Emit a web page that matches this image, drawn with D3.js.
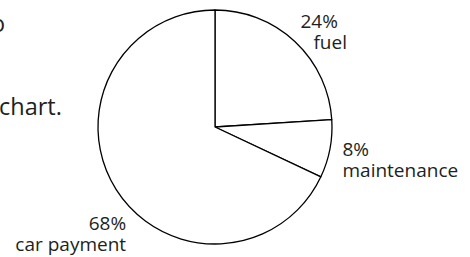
<!DOCTYPE html>
<html>
<head>
<meta charset="utf-8">
<script src="https://cdn.jsdelivr.net/npm/d3@7"></script>
<style>
  body { margin: 0; background: #fff; }
  text { font-family: "Open Sans", sans-serif; fill: #231f20; }
</style>
</head>
<body>
<div id="chart"></div>
<script>
// data
let categories = ["fuel", "maintenance", "car payment"];
let values = [24, 8, 68];
let percentLabels = ["24%", "8%", "68%"];

// label placement relative to each slice's label point
let labelLayout = [
    { anchor: "middle", dx: [7, 18], dy: 5 },
    { anchor: "start", dx: [-12, -12], dy: 2 },
    { anchor: "end", dx: [31, 31], dy: 27 }
];

let width = 470, height = 257;
let cx = 215, cy = 127, radius = 117;

let svg = d3.select("#chart").append("svg")
    .attr("width", width)
    .attr("height", height);

// bits of the page text that the crop cuts through
svg.append("text")
    .attr("x", 5)
    .attr("y", 32)
    .attr("text-anchor", "end")
    .style("font-size", "23px")
    .text("to");
svg.append("text")
    .attr("x", -1)
    .attr("y", 115)
    .style("font-size", "23.5px")
    .text("chart.");

let pie = d3.pie()
    .sort(null)
    .value(d => d.value);

let arcs = pie(categories.map((c, i) => ({ name: c, value: values[i], pct: percentLabels[i] })));

let arc = d3.arc()
    .innerRadius(0)
    .outerRadius(radius);

let labelArc = d3.arc()
    .innerRadius(radius + 25)
    .outerRadius(radius + 25);

let g = svg.append("g")
    .attr("transform", `translate(${cx},${cy})`);

g.selectAll("path")
    .data(arcs)
    .enter().append("path")
    .attr("d", arc)
    .attr("fill", "#fff")
    .attr("stroke", "#000")
    .attr("stroke-width", 1.3)
    .attr("stroke-linejoin", "round");

// draw slice labels
let labels = g.selectAll(".slicelabel")
    .data(arcs)
    .enter().append("text")
    .attr("class", "slicelabel")
    .attr("text-anchor", (d, i) => labelLayout[i].anchor)
    .attr("transform", (d, i) => {
        let c = labelArc.centroid(d);
        return `translate(${c[0]},${c[1] + labelLayout[i].dy})`;
    })
    .style("font-size", "19px");

labels.append("tspan")
    .attr("x", (d, i) => labelLayout[i].dx[0])
    .attr("y", 0)
    .text(d => d.data.pct);

labels.append("tspan")
    .attr("x", (d, i) => labelLayout[i].dx[1])
    .attr("y", 21)
    .text(d => d.data.name);
</script>
</body>
</html>
